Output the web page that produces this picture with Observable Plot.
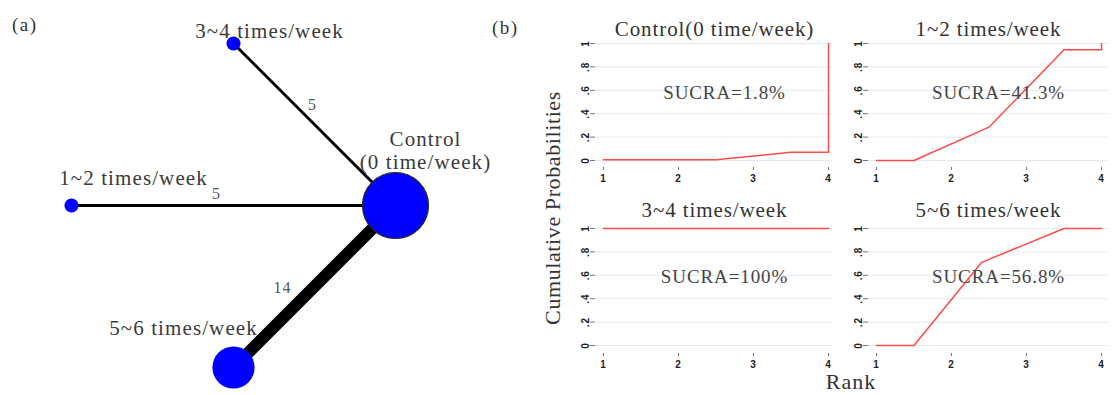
<!DOCTYPE html>
<html><head><meta charset="utf-8">
<script src="https://cdn.jsdelivr.net/npm/d3@7"></script>
<script src="https://cdn.jsdelivr.net/npm/@observablehq/plot@0.6"></script>
<style>
body{margin:0;background:#fff;}
#wrap{position:relative;width:1112px;height:395px;overflow:hidden;font-family:"Liberation Serif","Times New Roman",serif;}
.abs{position:absolute;}
.lbl{position:absolute;font-family:"Liberation Serif","Times New Roman",serif;color:#333;white-space:nowrap;line-height:1;}
</style></head><body>
<div id="wrap"></div>
<script>
// ---------- Panel (a): network ----------
const treatments = ["Control\n(0 time/week)", "3~4 times/week", "1~2 times/week", "5~6 times/week"];
const nodeX = [0, -1, -2, -1];
const nodeY = [0, 1, 0, -1];
const nodeWeight = [22, 1, 1, 9];
const edgeFrom = [1, 2, 3];
const edgeTo = [0, 0, 0];
const edgeStudies = [5, 5, 14];

// ---------- Panel (b): cumulative rank probabilities ----------
const panelTitles = ["Control(0 time/week)", "1~2 times/week", "3~4 times/week", "5~6 times/week"];
const sucraLabels = ["SUCRA=1.8%", "SUCRA=41.3%", "SUCRA=100%", "SUCRA=56.8%"];
const rankControl = [1, 2.5, 3.5, 4, 4];
const cumControl  = [0.006, 0.006, 0.07, 0.07, 1];
const rank12 = [1, 1.5, 2.5, 3.5, 4, 4];
const cum12  = [0, 0, 0.285, 0.946, 0.946, 1];
const rank34 = [1, 4];
const cum34  = [1, 1];
const rank56 = [1, 1.5, 2.4, 3.5, 4];
const cum56  = [0, 0, 0.71, 1, 1];
const xTicks = [1, 2, 3, 4];
const xTickLabels = ["1", "2", "3", "4"];
const yTicks = [0, 0.2, 0.4, 0.6, 0.8, 1];
const yTickLabels = ["0", ".2", ".4", ".6", ".8", "1"];

const wrap = document.getElementById("wrap");

// Build network tables
const nodes = treatments.map((t, i) => ({i, name: t, x: nodeX[i], y: nodeY[i], w: nodeWeight[i]}));
const edges = edgeFrom.map((f, k) => ({
  k, n: edgeStudies[k],
  x1: nodeX[f], y1: nodeY[f], x2: nodeX[edgeTo[k]], y2: nodeY[edgeTo[k]],
  mx: (nodeX[f] + nodeX[edgeTo[k]]) / 2, my: (nodeY[f] + nodeY[edgeTo[k]]) / 2
}));
const labelDx = [30, 36, 62, -50];
const labelDy = [-55, -13, -28, -40];
const edgeDx = [-2, -17, -32];
const edgeDy = [-20, -12, 1];

const net = Plot.plot({
  width: 480, height: 395,
  marginLeft: 71, marginRight: 85, marginTop: 43, marginBottom: 28,
  x: {domain: [-2, 0], axis: null},
  y: {domain: [-1, 1], axis: null},
  r: {domain: [0, 22], range: [0, 33]},
  style: {fontFamily: "'Liberation Serif', 'Times New Roman', serif", background: "transparent", overflow: "visible", letterSpacing: "1.1px"},
  marks: [
    Plot.link(edges, {x1: "x1", y1: "y1", x2: "x2", y2: "y2", stroke: "#000", strokeWidth: d => d.n - 2}),
    Plot.dot(nodes.filter(d => d.i !== 0), {x: "x", y: "y", r: "w", fill: "#0000ff", stroke: "none"}),
    Plot.dot(nodes.filter(d => d.i === 0), {x: "x", y: "y", r: "w", fill: "#0000ff", stroke: "#2b2a14", strokeWidth: 1.2}),
    ...nodes.map((d, i) => Plot.text([d], {x: "x", y: "y", text: "name", dx: labelDx[i], dy: labelDy[i], fontSize: 21, lineHeight: 1.1, fill: "#3a3a3a"})),
    ...edges.map((e, k) => Plot.text([e], {x: "mx", y: "my", text: d => String(d.n), dx: edgeDx[k], dy: edgeDy[k], fontSize: 16, fill: "#555"}))
  ]
});
net.classList.add("abs");
net.style.left = "0px"; net.style.top = "0px";
wrap.appendChild(net);

// Rank plots
const ranks = [rankControl, rank12, rank34, rank56];
const cums = [cumControl, cum12, cum34, cum56];
function rankPlot(i) {
  const col = i % 2, row = Math.floor(i / 2);
  const W = col === 0 ? 300 : 272;
  const H = row === 0 ? 190 : 210;
  const data = ranks[i].map((r, j) => ({rank: r, p: cums[i][j]}));
  const svg = Plot.plot({
    width: W, height: H,
    marginLeft: col === 0 ? 55 : 28, marginRight: col === 0 ? 7 : 4,
    marginTop: row === 0 ? 40 : 39, marginBottom: row === 0 ? 23 : 42,
    style: {fontFamily: "'Liberation Serif', 'Times New Roman', serif", background: "transparent", overflow: "visible", letterSpacing: "0.9px"},
    x: {domain: [1, 4], insetLeft: 8, insetRight: col === 0 ? 5 : 7},
    y: {domain: [0, 1], insetTop: row === 0 ? 3 : 4, insetBottom: row === 0 ? 7 : 8},
    marks: [
      Plot.ruleY(yTicks, {stroke: "#e2ebf2", strokeWidth: 1}),
      Plot.axisY({ticks: yTicks, tickFormat: d => yTickLabels[yTicks.indexOf(d)], tickSize: 5, tickPadding: 2, tickRotate: -90,
        stroke: "#777", fill: "#222", line: true, label: null, fontSize: 10, fontWeight: "bold", fontFamily: "'Liberation Sans', sans-serif"}),
      Plot.axisX({ticks: xTicks, tickFormat: d => xTickLabels[xTicks.indexOf(d)], tickSize: 3, tickPadding: 4, stroke: "#777", fill: "#222", line: true, label: null, fontSize: 10, fontWeight: "bold", fontFamily: "'Liberation Sans', sans-serif"}),
      Plot.line(data, {x: "rank", y: "p", stroke: "#ff4a4a", strokeWidth: 1.5}),
      Plot.text([panelTitles[i]], {frameAnchor: "top", lineAnchor: "bottom", dy: row === 0 ? -5 : -8, fontSize: 21, fill: "#333"}),
      Plot.text([sucraLabels[i]], {frameAnchor: "top", lineAnchor: "middle", dx: 10, dy: 52, fontSize: 19, fill: "#444"})
    ]
  });
  svg.classList.add("abs");
  svg.style.left = (col === 0 ? 540 : 840) + "px";
  svg.style.top = (row === 0 ? 0 : 185) + "px";
  return svg;
}
for (let i = 0; i < 4; i++) wrap.appendChild(rankPlot(i));

// HTML labels
function addLabel(text, css) {
  const d = document.createElement("div");
  d.className = "lbl";
  d.textContent = text;
  Object.assign(d.style, css);
  wrap.appendChild(d);
}
addLabel("(a)", {left: "12px", top: "15px", fontSize: "19px", letterSpacing: "1.5px", color: "#333"});
addLabel("(b)", {left: "492px", top: "18px", fontSize: "19px", letterSpacing: "1.5px", color: "#333"});
addLabel("Cumulative Probabilities", {left: "553px", top: "208px", fontSize: "22px", letterSpacing: "0.6px", transform: "translate(-50%,-50%) rotate(-90deg)", color: "#333"});
addLabel("Rank", {left: "851px", top: "382px", fontSize: "22px", letterSpacing: "1px", transform: "translate(-50%,-50%)", color: "#333"});
</script>
</body></html>
